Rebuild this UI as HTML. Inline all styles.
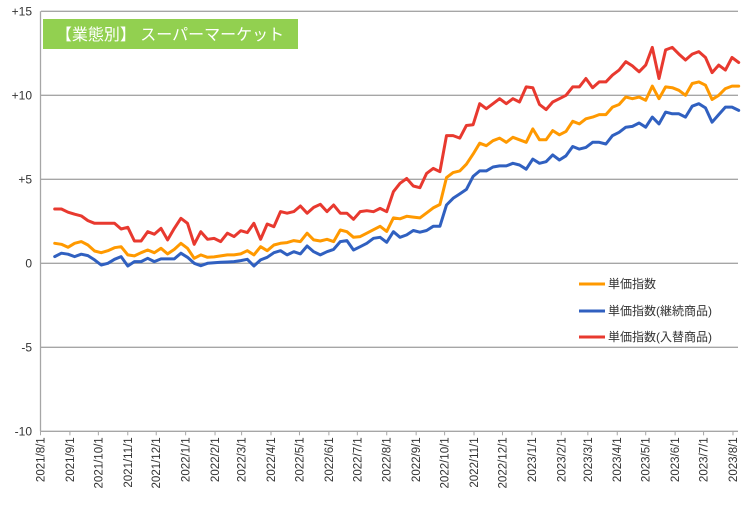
<!DOCTYPE html>
<html><head><meta charset="utf-8">
<style>
html,body{margin:0;padding:0;background:#fff;}
svg{display:block;font-family:"Liberation Sans","Noto Sans CJK JP",sans-serif;}
</style></head>
<body>
<svg id="chart" width="742" height="510" viewBox="0 0 742 510" xmlns="http://www.w3.org/2000/svg">
<g id="grid"></g>
<g id="yaxis"></g>
<g id="xaxis"></g>
<g id="series"></g>
<g>
<rect x="43" y="19" width="255" height="30" fill="#92D050"/>
<text x="170" y="40" text-anchor="middle" font-size="16" fill="#fff">【業態別】 スーパーマーケット</text>
</g>
<g>
<rect x="568" y="264" width="165" height="81" fill="#fff"/>
<line x1="579" y1="284" x2="605" y2="284" stroke="#FF9900" stroke-width="3"/>
<text x="608" y="288" font-size="12" fill="#333">単価指数</text>
<line x1="579" y1="311" x2="605" y2="311" stroke="#3060C0" stroke-width="3"/>
<text x="608" y="315" font-size="12" fill="#333">単価指数(継続商品)</text>
<line x1="579" y1="337" x2="605" y2="337" stroke="#E8392F" stroke-width="3"/>
<text x="608" y="341" font-size="12" fill="#333">単価指数(入替商品)</text>
</g>
</svg>
<script>
const startDate = "2021-08-16";
const yTicks = [15, 10, 5, 0, -5, -10];
const yTickLabels = ["+15", "+10", "+5", "0", "-5", "-10"];
const monthLabels = ["2021/8/1","2021/9/1","2021/10/1","2021/11/1","2021/12/1","2022/1/1","2022/2/1","2022/3/1","2022/4/1","2022/5/1","2022/6/1","2022/7/1","2022/8/1","2022/9/1","2022/10/1","2022/11/1","2022/12/1","2023/1/1","2023/2/1","2023/3/1","2023/4/1","2023/5/1","2023/6/1","2023/7/1","2023/8/1"];
const unitPrice = [1.19,1.13,0.95,1.19,1.29,1.09,0.73,0.63,0.75,0.93,0.99,0.5,0.44,0.63,0.79,0.63,0.89,0.56,0.83,1.19,0.89,0.3,0.5,0.36,0.38,0.44,0.5,0.5,0.56,0.75,0.5,0.99,0.75,1.09,1.19,1.23,1.35,1.29,1.79,1.39,1.33,1.43,1.29,1.98,1.88,1.55,1.59,1.79,2.0,2.2,1.9,2.7,2.65,2.8,2.75,2.7,3.0,3.3,3.5,5.1,5.4,5.5,5.9,6.5,7.15,7.0,7.3,7.45,7.2,7.5,7.35,7.2,8.0,7.35,7.35,7.9,7.65,7.85,8.45,8.3,8.6,8.7,8.85,8.85,9.3,9.45,9.9,9.8,9.9,9.7,10.55,9.8,10.5,10.45,10.3,10.0,10.7,10.8,10.6,9.75,10.0,10.4,10.55,10.55];
const continuing = [0.4,0.6,0.54,0.4,0.54,0.46,0.2,-0.1,0,0.24,0.4,-0.16,0.1,0.1,0.3,0.1,0.26,0.26,0.26,0.6,0.36,0,-0.14,0,0.03,0.06,0.08,0.1,0.16,0.24,-0.16,0.2,0.36,0.63,0.75,0.5,0.69,0.56,1.03,0.69,0.5,0.69,0.83,1.29,1.35,0.79,0.99,1.19,1.49,1.55,1.25,1.88,1.55,1.69,1.95,1.85,1.95,2.2,2.2,3.47,3.87,4.13,4.4,5.17,5.5,5.5,5.73,5.8,5.8,5.95,5.85,5.6,6.2,5.95,6.05,6.45,6.15,6.4,6.95,6.8,6.9,7.2,7.2,7.1,7.6,7.8,8.1,8.15,8.35,8.1,8.7,8.3,9.0,8.9,8.9,8.7,9.35,9.5,9.25,8.4,8.85,9.3,9.3,9.1];
const replaced = [3.23,3.23,3.04,2.92,2.82,2.54,2.38,2.38,2.38,2.38,2.04,2.14,1.33,1.33,1.88,1.73,2.08,1.39,2.08,2.68,2.38,1.13,1.88,1.43,1.48,1.29,1.79,1.59,1.94,1.83,2.38,1.43,2.34,2.18,3.08,2.98,3.08,3.41,2.98,3.33,3.51,3.08,3.47,2.98,2.98,2.62,3.08,3.13,3.07,3.27,3.07,4.26,4.76,5.05,4.6,4.5,5.35,5.65,5.45,7.6,7.6,7.45,8.2,8.25,9.5,9.2,9.5,9.8,9.5,9.8,9.6,10.5,10.45,9.45,9.15,9.6,9.8,10.0,10.5,10.5,11.0,10.45,10.8,10.8,11.2,11.5,12.0,11.75,11.4,11.8,12.85,11.0,12.7,12.85,12.45,12.1,12.45,12.6,12.25,11.35,11.8,11.5,12.25,11.95];

const NS = "http://www.w3.org/2000/svg";
const X0 = 40.5, PXDAY = 0.9486, LEFT = 41, RIGHT = 738;
const axisOrigin = Date.UTC(2021, 7, 1);
function xOfDate(ms){ return X0 + (ms - axisOrigin) / 86400000 * PXDAY; }
function y(v){ return 263.3 - v * 16.8; }
function parseDate(s){ const p = s.split("/").length > 1 ? s.split("/") : s.split("-"); return Date.UTC(+p[0], +p[1]-1, +p[2]); }
function mk(tag, attrs, parent){ const e = document.createElementNS(NS, tag); for (const k in attrs) e.setAttribute(k, attrs[k]); parent.appendChild(e); return e; }

const grid = document.getElementById("grid");
const yaxis = document.getElementById("yaxis");
const xaxis = document.getElementById("xaxis");
const series = document.getElementById("series");

yTicks.forEach((t, i) => {
  if (t !== -10) {
    const g = mk("line", {x1: LEFT, x2: RIGHT, y1: y(t), y2: y(t), stroke: "#a6a6a6", "stroke-width": 1.3}, grid);
    
    
  }
  const lb = mk("text", {x: 32, y: y(t) + 4, "text-anchor": "end", "font-size": 12, fill: "#333"}, yaxis);
  lb.textContent = yTickLabels[i];
  
  
});
const va = mk("line", {x1: X0, x2: X0, y1: y(15), y2: y(-10), stroke: "#a6a6a6", "stroke-width": 1.3}, yaxis);


const ha = mk("line", {x1: X0, x2: RIGHT, y1: y(-10), y2: y(-10), stroke: "#a6a6a6", "stroke-width": 1.3}, xaxis);



monthLabels.forEach(m => {
  const x = xOfDate(parseDate(m));
  const tk = mk("line", {x1: x, x2: x, y1: y(-10), y2: y(-10) + 4, stroke: "#a6a6a6", "stroke-width": 1}, xaxis);
  
  
  const t = mk("text", {x: 0, y: 0, "text-anchor": "end", "font-size": 11.5, fill: "#333", transform: `translate(${x + 4},${y(-10) + 6}) rotate(-90)`}, xaxis);
  t.textContent = m;
  
  
});

const start = parseDate(startDate);
const dates = [];
for (let i = 0; i < unitPrice.length; i++) dates.push(start + i * 7 * 86400000);

function drawLine(vals, color, name){
  const pts = vals.map((v, i) => xOfDate(dates[i]).toFixed(1) + "," + y(v).toFixed(1)).join(" ");
  const p = mk("polyline", {points: pts, fill: "none", stroke: color, "stroke-width": 3, "stroke-linejoin": "round", "stroke-linecap": "round"}, series);
  
  
}
drawLine(continuing, "#3060C0", "line-continuing-items");
drawLine(unitPrice, "#FF9900", "line-unit-price-index");
drawLine(replaced, "#E8392F", "line-replaced-items");
</script>
</body></html>
